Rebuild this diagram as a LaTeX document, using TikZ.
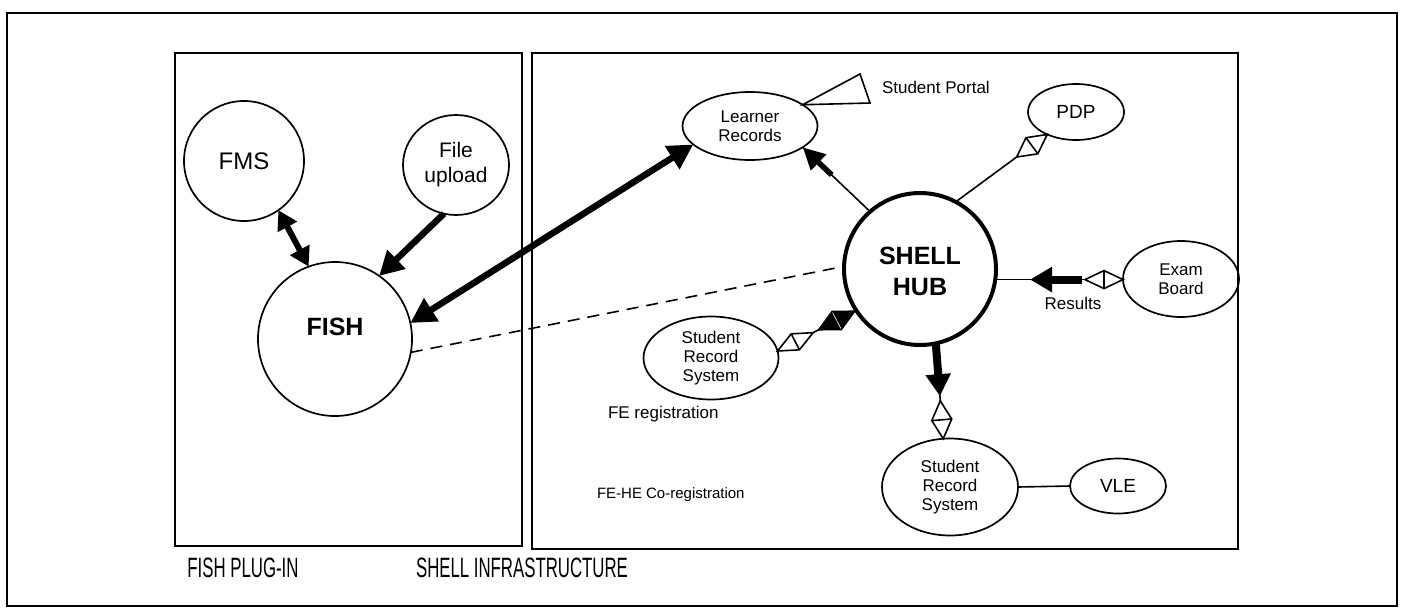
\documentclass[tikz,border=0pt]{standalone}
\usepackage{fontspec}
\setmainfont{Liberation Sans}
\usetikzlibrary{shapes.geometric,arrows.meta,decorations.markings}
\newcommand\setfs[2]{\fontsize{#1}{#2}\selectfont}
\begin{document}
\begin{tikzpicture}[x=1pt,y=-1pt,
  every node/.style={inner sep=0pt,outer sep=0pt},
  bubble/.style={circle,draw,line width=1.7pt},
  oval/.style={ellipse,draw,line width=1.7pt,align=center,font=\setfs{17}{19}},
  wire/.style={line width=1.6pt},
  lbl/.style={font=\setfs{17}{19}},
  caption/.style={font=\setfs{28}{30}},
  fatone/.style={line width=6.5pt,arrows={-Triangle[length=24pt,width=25pt]}},
  fatboth/.style={line width=6.5pt,arrows={Triangle[length=25pt,width=26pt]-Triangle[length=25pt,width=26pt]}},
  fatshort/.style={line width=6pt,arrows={Triangle[length=19pt,width=21pt]-Triangle[length=19pt,width=21pt]}},
  dashline/.style={line width=1.6pt,dash pattern=on 12pt off 8pt,shorten >=8pt},
  % open diamond with its cross diagonal at the end of a path
  diaend/.style={postaction={decorate,decoration={markings,
    mark=at position 1 with {\draw[line width=1.6pt,fill=white] (0,0) -- (-19,10) -- (-38,0) -- (-19,-10) -- cycle (-19,10) -- (-19,-10);}}}},
  % short fat arrow into the end of a path
  headend/.style={postaction={decorate,decoration={markings,
    mark=at position 1 with {\draw[line width=5.5pt,arrows={-Triangle[length=22pt,width=21pt]}] (-40,0) -- (0,0);}}}},
  % open diamond at the far end, fat arrow pointing back to the start
  resultsdeco/.style={postaction={decorate,decoration={markings,
    mark=at position 1 with {\draw[line width=1.6pt,fill=white] (0,0) -- (-19,9) -- (-38,0) -- (-19,-9) -- cycle (-19,9) -- (-19,-9);
      \draw[line width=8pt,arrows={-Triangle[length=22pt,width=24pt]}] (-41,0) -- (-93,0);}}}},
  % fat arrow leaving the start, open diamond at the end
  downdeco/.style={postaction={decorate,decoration={markings,
    mark=at position 0 with {\draw[line width=8pt,arrows={-Triangle[length=22pt,width=24pt]}] (0,0) -- (53,0);},
    mark=at position 1 with {\draw[line width=1.6pt,fill=white] (0,0) -- (-19,10) -- (-38,0) -- (-19,-10) -- cycle (-19,10) -- (-19,-10);}}}},
  % open diamond at the start, filled diamond at the end
  srsdeco/.style={postaction={decorate,decoration={markings,
    mark=at position 0 with {\draw[line width=1.6pt,fill=white] (0,0) -- (20,9) -- (40,0) -- (20,-9) -- cycle (20,9) -- (20,-9);},
    mark=at position 1 with {\fill (0,0) -- (-22,11) -- (-44,0) -- (-22,-11) -- cycle;
      \draw[white,line width=0.6pt] (-22,9) -- (-22,-9);}}}}
]
\useasboundingbox (0,0) rectangle (1404,613);

% frames
\draw[line width=2.5pt] (7,13) rectangle (1397,606);
\draw[line width=1.7pt] (175,53) rectangle (522,546);
\draw[line width=2pt] (532,53) rectangle (1238,549);

% plug-in side
\node[bubble,minimum size=120pt,font=\setfs{24}{28}] (fms) at (244,161) {FMS};
\node[oval,minimum width=106pt,minimum height=100pt,font=\setfs{21}{25}] (upload) at (456,165) {File\\upload};
\node[bubble,minimum size=154pt] (fish) at (335,339) {};
\node[font=\bfseries\setfs{25}{30}] (fishname) at (335,327) {FISH};

% infrastructure side
\node[bubble,line width=4pt,minimum size=152pt] (hub) at (920,269) {};
\node[align=center,font=\bfseries\setfs{25}{31}] (hubname) at (920,271) {SHELL\\HUB};
\node[oval,minimum width=135pt,minimum height=68pt] (lr) at (750,126) {Learner\\Records};
\node[oval,minimum width=96pt,minimum height=56pt,font=\setfs{19}{22}] (pdp) at (1076,112) {PDP};
\node[oval,minimum width=116pt,minimum height=76pt] (exam) at (1181,279) {Exam\\Board};
\node[oval,minimum width=135pt,minimum height=83pt] (srs) at (711,358) {Student\\Record\\System};
\node[oval,minimum width=136pt,minimum height=97pt] (srs2) at (950,487) {Student\\Record\\System};
\node[oval,minimum width=96pt,minimum height=55pt,font=\setfs{19}{22}] (vle) at (1118,486) {VLE};

% labels
\node[lbl,anchor=base west] (portal) at (882,93) {Student Portal};
\node[lbl,anchor=base] (results) at (1073,309) {Results};
\node[lbl,anchor=base west] (fereg) at (608,418) {FE registration};
\node[lbl,anchor=base west,font=\setfs{15}{17}] (fehereg) at (597,498) {FE-HE Co-registration};
\node[caption,anchor=base] (plugin) at (243,577) {\scalebox{0.6}[1]{FISH PLUG-IN}};
\node[caption,anchor=base] (infra) at (522,577) {\scalebox{0.6}[1]{SHELL INFRASTRUCTURE}};

% connectors in the plug-in
\draw[fatshort] (fms.305) -- (fish.110);
\draw[fatone] (upload.256) -- (fish.55);
\draw[fatboth] (fish.12) -- (lr.198);
\draw[dashline] (fish.350) -- (hub.178);

% connectors round the hub
\draw[wire,headend] (hub.131) -- (lr.338);
\coordinate (portalA) at (870,103);
\coordinate (portalB) at (860,74);
\draw[wire,line join=miter] (lr.22) -- (portalA) -- (portalB) -- cycle;
\draw[wire,diaend] (hub.62) -- (pdp.218);
\draw[wire,resultsdeco] (hub.352) -- (hub.352 -| exam.west);
\draw[wire,srsdeco] (srs.6) -- (hub.213);
\draw[wire,downdeco] (hub.282) -- (srs2.98);
\draw[wire] (srs2.east) -- (vle.west);
\end{tikzpicture}
\end{document}
